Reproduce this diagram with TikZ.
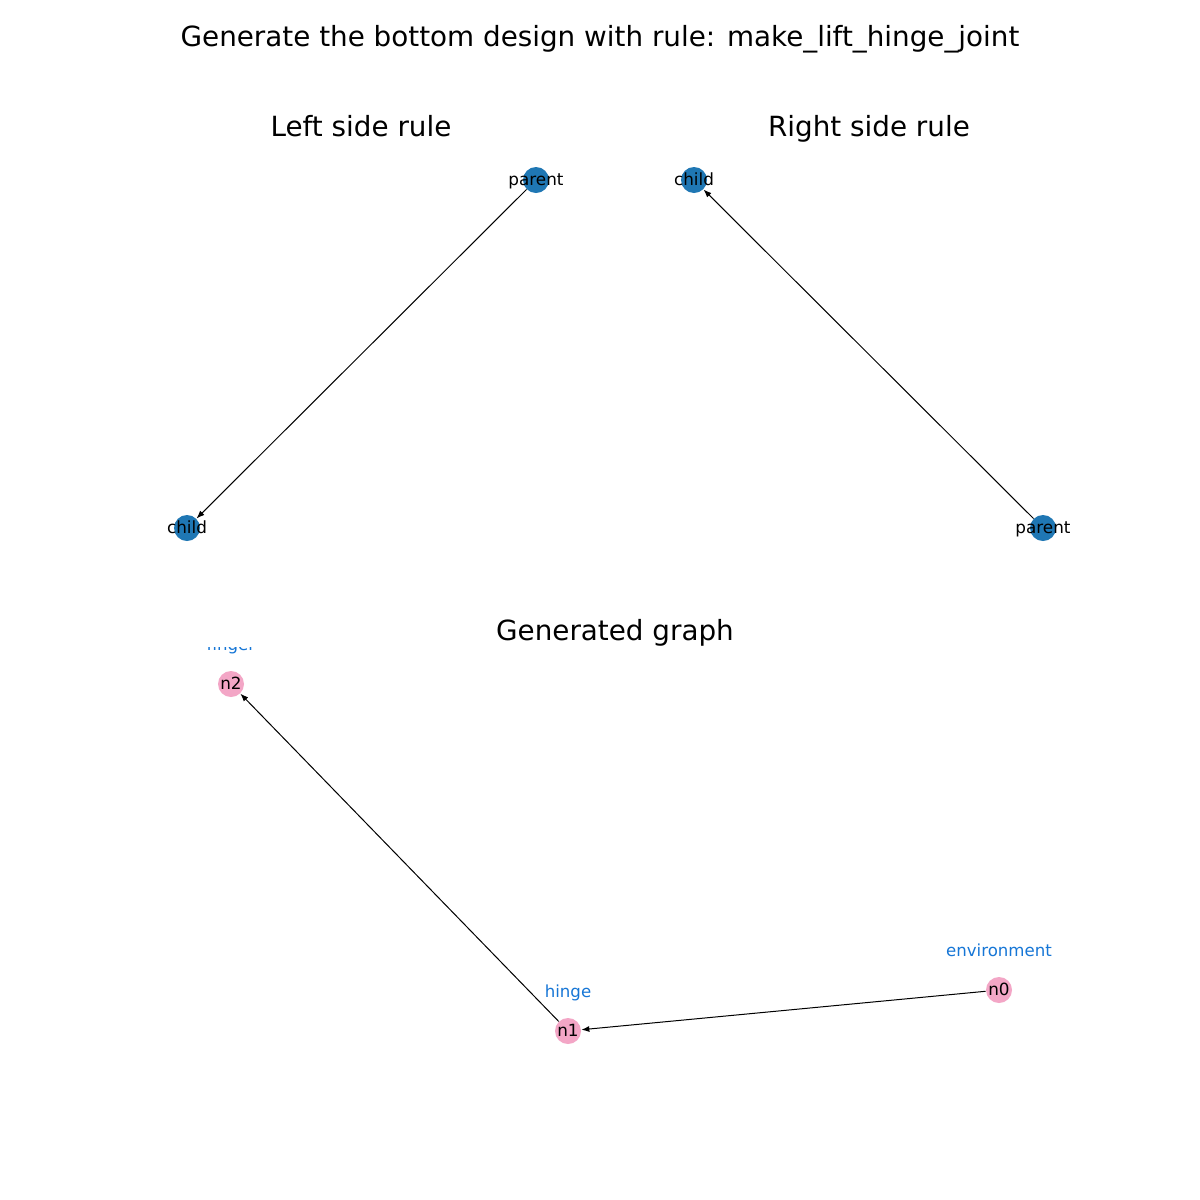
\documentclass[tikz,border=0pt]{standalone}
\usepackage{fontspec}
\setmainfont{DejaVu Sans}
\usetikzlibrary{arrows.meta}
\definecolor{nodeblue}{RGB}{31,119,180}
\definecolor{nodepink}{RGB}{243,166,198}
\definecolor{tagblue}{RGB}{22,118,214}
\tikzset{
  dot/.style={circle, minimum size=13pt, inner sep=0pt, draw=none},
  bluedot/.style={dot, fill=nodeblue},
  pinkdot/.style={dot, fill=nodepink},
  even/.style={text height=0.75em, text depth=0.22em},
  nodetext/.style={even, font=\fontsize{8.4}{10}\selectfont, text=black, inner sep=0pt},
  tagtext/.style={even, font=\fontsize{8.3}{10}\selectfont, text=tagblue, inner sep=0pt},
  edge/.style={draw=black, line width=0.5pt, -{Latex[length=4pt,width=3pt]}},
  maintitle/.style={even, font=\fontsize{13.9}{16}\selectfont},
  subtitle/.style={even, font=\fontsize{13.9}{16}\selectfont},
}
\begin{document}
\begin{tikzpicture}[x=0.5pt,y=-0.5pt]
  \path[fill=white] (0,0) rectangle (1200,1200);
  \useasboundingbox (0,0) rectangle (1200,1200);

  % titles
  \node[maintitle] (title) at (600,41) {Generate the bottom design with rule: make\_lift\_hinge\_joint};
  \node[subtitle] (lefttitle) at (361,131) {Left side rule};
  \node[subtitle] (righttitle) at (869,131) {Right side rule};
  \node[subtitle] (gentitle) at (615,635) {Generated graph};

  % left side rule
  \node[bluedot] (lparent) at (536,180) {};
  \node[bluedot] (lchild) at (187,528) {};
  \draw[edge] (lparent) -- (lchild);
  \node[nodetext] (lparentlbl) at (536,180) {parent};
  \node[nodetext] (lchildlbl) at (187,528) {child};

  % right side rule
  \node[bluedot] (rchild) at (694,180) {};
  \node[bluedot] (rparent) at (1043,528) {};
  \draw[edge] (rparent) -- (rchild);
  \node[nodetext] (rchildlbl) at (694,180) {child};
  \node[nodetext] (rparentlbl) at (1043,528) {parent};

  % generated graph
  \node[pinkdot] (n2) at (231,684) {};
  \node[pinkdot] (n1) at (568,1031) {};
  \node[pinkdot] (n0) at (999,990) {};
  \draw[edge] (n1) -- (n2);
  \draw[edge] (n0) -- (n1);
  \node[nodetext] (n2lbl) at (231,684) {n2};
  \node[nodetext] (n1lbl) at (568,1031) {n1};
  \node[nodetext] (n0lbl) at (999,990) {n0};

  \node[tagtext] (n1tag) at (568,992) {hinge};
  \node[tagtext] (n0tag) at (999,951) {environment};
  \begin{scope}
    \clip (0,647) rectangle (1200,1200);
    \node[tagtext] (n2tag) at (231,645) {finger};
  \end{scope}
\end{tikzpicture}
\end{document}
